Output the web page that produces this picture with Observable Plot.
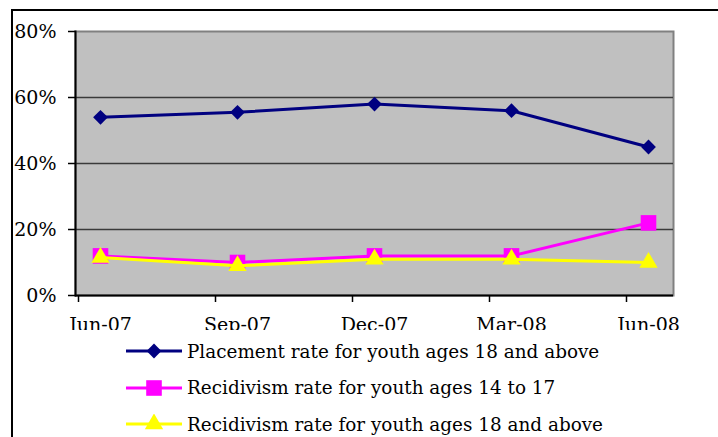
<!DOCTYPE html>
<html><head><meta charset="utf-8">
<script src="https://cdn.jsdelivr.net/npm/d3@7"></script>
<script src="https://cdn.jsdelivr.net/npm/@observablehq/plot@0.6"></script>
<style>
html,body{margin:0;padding:0;background:#fff;width:718px;height:437px;overflow:hidden;position:relative;font-family:"DejaVu Serif",serif;}
#frame{position:absolute;left:11px;top:9px;width:720px;height:440px;border-left:2px solid #000;border-top:2px solid #000;box-sizing:border-box;}
#chart{position:absolute;left:0;top:0;width:718px;height:330px;overflow:hidden;}
#legend{position:absolute;left:126px;top:333px;}
.row{display:flex;align-items:center;height:36.5px;font-size:18.4px;color:#000;white-space:nowrap}
.row svg{margin-right:5px}
</style></head><body>
<div id="frame"></div>
<div id="chart"></div>
<div id="legend"></div>
<script>
const periods = ["Jun-07","Sep-07","Dec-07","Mar-08","Jun-08"];
const placement18 = [0.54, 0.555, 0.58, 0.56, 0.45];
const recid14to17 = [0.12, 0.10, 0.12, 0.12, 0.22];
const recid18up = [0.115, 0.09, 0.11, 0.11, 0.10];
const yTicks = [0, 0.2, 0.4, 0.6, 0.8];
const gridTicks = [0.2, 0.4, 0.6];
const seriesNames = [
  "Placement rate for youth ages 18 and above",
  "Recidivism rate for youth ages 14 to 17",
  "Recidivism rate for youth ages 18 and above"
];
const seriesColors = ["#000080", "#ff00ff", "#ffff00"];
const seriesValues = [placement18, recid14to17, recid18up];

const rows = seriesValues.flatMap((vals, s) =>
  vals.map((v, i) => ({period: periods[i], value: v, series: seriesNames[s]})));
const bySeries = s => rows.filter(d => d.series === seriesNames[s]);

const markerOpts = [
  {symbol: "square", r: 5.9, rotate: 45},
  {symbol: "square", r: 8.8, rotate: 0},
  {symbol: "triangle", r: 6.8, rotate: 0}
];

const chart = Plot.plot({
  width: 718,
  height: 330,
  marginLeft: 75,
  marginRight: 45,
  marginTop: 31,
  marginBottom: 35,
  style: {fontFamily: '"DejaVu Serif", serif', fontSize: "18px", color: "#000", background: "transparent", overflow: "hidden"},
  x: {type: "point", domain: periods, padding: 0.167},
  y: {domain: [0, 0.8]},
  color: {domain: seriesNames, range: seriesColors},
  marks: [
    Plot.frame({fill: "#c0c0c0", stroke: "#808080", strokeWidth: 2}),
    Plot.ruleY(gridTicks, {stroke: "#3a3a3a", strokeWidth: 1.5}),
    Plot.ruleY([0], {stroke: "#000", strokeWidth: 2}),
    Plot.frame({anchor: "left", stroke: "#000", strokeWidth: 2}),
    Plot.axisY(yTicks, {tickSize: 7, tickPadding: 12, tickFormat: d3.format(".0%"), label: null, strokeWidth: 1.5, fontSize: 19}),
    Plot.axisX({tickSize: 7, tickFormat: () => "", label: null, dx: -22, strokeWidth: 1.5}),
    Plot.axisX({tickSize: 0, tickPadding: 22, label: null, fontSize: 19}),
    ...seriesNames.map((n, s) => [
      Plot.line(bySeries(s), {x: "period", y: "value", stroke: "series", strokeWidth: 3}),
      Plot.dot(bySeries(s), {x: "period", y: "value", fill: "series", stroke: null, ...markerOpts[s]})
    ]).flat()
  ]
});
document.getElementById("chart").appendChild(chart);

// legend
const legend = d3.select("#legend");
seriesNames.forEach((n, s) => {
  const row = legend.append("div").attr("class", "row");
  const sw = row.append("svg").attr("width", 56).attr("height", 20);
  sw.append("line").attr("x1", 0).attr("x2", 56).attr("y1", 10).attr("y2", 10)
    .attr("stroke", seriesColors[s]).attr("stroke-width", 3);
  const m = markerOpts[s];
  const sym = m.symbol === "triangle" ? d3.symbolTriangle : d3.symbolSquare;
  sw.append("path").attr("d", d3.symbol(sym, Math.PI * m.r * m.r)())
    .attr("transform", `translate(28,10) rotate(${m.rotate})`)
    .attr("fill", seriesColors[s]);
  row.append("span").text(n);
});
</script>
</body></html>
